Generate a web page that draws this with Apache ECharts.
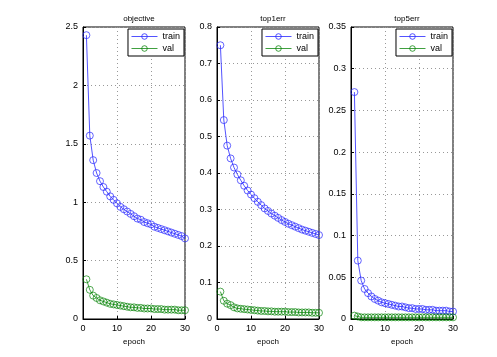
<!DOCTYPE html>
<html><head><meta charset="utf-8">
<script src="https://cdn.jsdelivr.net/npm/echarts@6/dist/echarts.min.js"></script>
<style>html,body{margin:0;padding:0;background:#fff}#c{width:497px;height:357px}</style>
</head><body><div id="c"></div>
<script>
const epochs = Array.from({length:30},(_,i)=>i+1);
const titles = ['objective','top1err','top5err'];
const seriesNames = ['train','val'];
const objTrain = [2.43,1.57,1.36,1.25,1.18,1.13,1.09,1.05,1.02,0.99,0.96,0.94,0.92,0.90,0.88,0.86,0.85,0.83,0.82,0.81,0.79,0.78,0.77,0.76,0.75,0.74,0.73,0.72,0.71,0.69];
const objVal = [0.34,0.25,0.20,0.18,0.16,0.15,0.14,0.13,0.125,0.12,0.115,0.11,0.105,0.10,0.10,0.095,0.095,0.09,0.09,0.09,0.085,0.085,0.085,0.08,0.08,0.08,0.08,0.075,0.075,0.075];
const top1Train = [0.75,0.545,0.475,0.44,0.415,0.396,0.38,0.365,0.352,0.341,0.331,0.321,0.312,0.303,0.296,0.289,0.283,0.277,0.271,0.266,0.261,0.257,0.253,0.249,0.245,0.242,0.239,0.236,0.233,0.23];
const top1Val = [0.075,0.05,0.042,0.038,0.032,0.029,0.028,0.027,0.026,0.025,0.024,0.023,0.022,0.022,0.021,0.021,0.02,0.02,0.02,0.02,0.019,0.019,0.019,0.018,0.018,0.018,0.018,0.017,0.017,0.017];
const top5Train = [0.272,0.07,0.046,0.036,0.031,0.027,0.024,0.022,0.020,0.019,0.018,0.017,0.016,0.015,0.015,0.014,0.013,0.013,0.012,0.012,0.012,0.011,0.011,0.011,0.010,0.010,0.010,0.010,0.009,0.009];
const top5Val = [0.004,0.003,0.002,0.002,0.002,0.002,0.002,0.002,0.002,0.002,0.002,0.002,0.002,0.002,0.002,0.002,0.002,0.002,0.002,0.002,0.002,0.002,0.002,0.002,0.002,0.002,0.002,0.002,0.002,0.002];
const yMax = [2.5,0.8,0.35];
const yInterval = [0.5,0.1,0.05];
const xTicks = [0,10,20,30];

const data = [[objTrain,objVal],[top1Train,top1Val],[top5Train,top5Val]];
const lefts = [83,217,351];
const W = 102, TOP = 27, H = 292;
const colors = ['rgba(40,40,255,0.8)','rgba(0,128,0,0.75)'];
const font = 'Liberation Sans, Arial, sans-serif';

const option = {
  animation:false,
  backgroundColor:'#fff',
  title: titles.map((t,i)=>({text:t,left:lefts[i]+W/2,top:10,textAlign:'center',
    textStyle:{fontSize:8,fontWeight:'normal',color:'#000',fontFamily:font}})),
  grid: lefts.map(l=>({left:l,top:TOP,width:W,height:H,show:true,borderColor:'#000',borderWidth:1,backgroundColor:'transparent'})),
  legend: lefts.map((l,i)=>({data:seriesNames,orient:'vertical',right:497-(l+W)+1,top:TOP+2,
    backgroundColor:'#fff',borderColor:'#000',borderWidth:1,padding:[3,4,3,3],itemGap:3,
    itemWidth:26,itemHeight:7,
    lineStyle:{width:1},itemStyle:{borderWidth:1},
    textStyle:{fontSize:9,color:'#000',fontFamily:font}})),
  xAxis: lefts.map((l,i)=>({gridIndex:i,type:'value',min:xTicks[0],max:xTicks[xTicks.length-1],interval:10,
    name:'epoch',nameLocation:'middle',nameGap:16,nameTextStyle:{fontSize:8,color:'#000',fontFamily:font},
    axisLine:{lineStyle:{color:'#000'}},axisTick:{inside:true,length:3,lineStyle:{color:'#000'}},
    axisLabel:{fontSize:9,color:'#000',margin:5,fontFamily:font},
    splitLine:{show:true,lineStyle:{color:'#999',type:[1,3],width:1}}})),
  yAxis: lefts.map((l,i)=>({gridIndex:i,type:'value',min:0,max:yMax[i],interval:yInterval[i],
    axisLine:{show:true,lineStyle:{color:'#000'}},axisTick:{show:true,inside:true,length:3,lineStyle:{color:'#000'}},
    axisLabel:{fontSize:9,color:'#000',margin:5,fontFamily:font},
    splitLine:{show:true,lineStyle:{color:'#999',type:[1,3],width:1}}})),
  series: []
};
data.forEach((pair,g)=>{
  pair.forEach((vals,k)=>{
    option.series.push({name:seriesNames[k],type:'line',xAxisIndex:g,yAxisIndex:g,
      data:epochs.map((e,j)=>[e,vals[j]]),symbol:'circle',symbolSize:7,showSymbol:true,
      lineStyle:{width:1,color:colors[k]},
      itemStyle:{color:'rgba(255,255,255,0)',borderColor:colors[k],borderWidth:0.9},
      emphasis:{disabled:true}});
  });
});
echarts.init(document.getElementById('c')).setOption(option);
</script></body></html>
